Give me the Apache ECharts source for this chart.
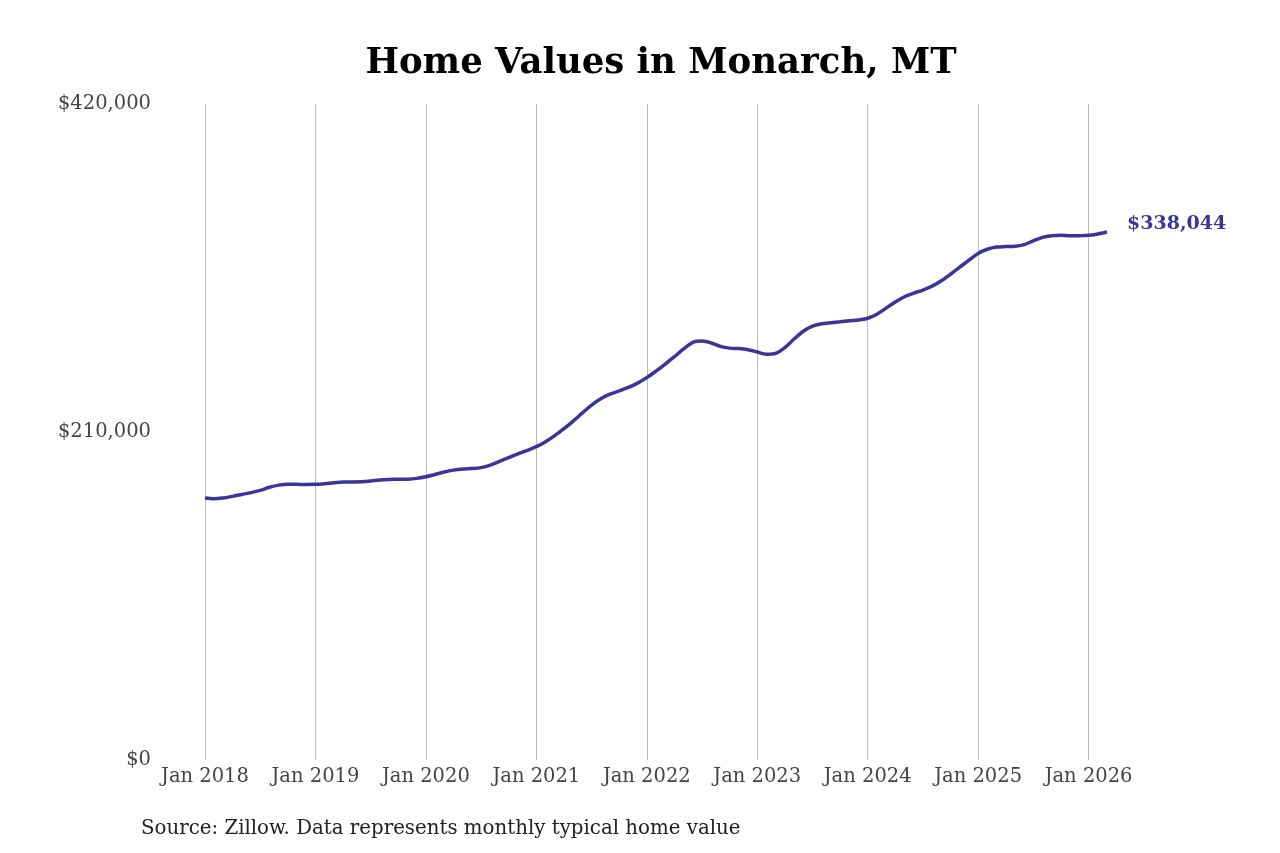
<!DOCTYPE html>
<html>
<head>
<meta charset="utf-8">
<title>Home Values in Monarch, MT</title>
<script src="https://cdn.jsdelivr.net/npm/echarts@6/dist/echarts.min.js"></script>
<style>
  html, body { margin: 0; padding: 0; background: #fff; }
  #chart { width: 1280px; height: 853px; }
</style>
</head>
<body>
<div id="chart"></div>
<script>
// monthly data, Jan 2018 - Mar 2026
var years = [2018, 2019, 2020, 2021, 2022, 2023, 2024, 2025, 2026];
var monthNames = ['Jan', 'Feb', 'Mar', 'Apr', 'May', 'Jun', 'Jul', 'Aug', 'Sep', 'Oct', 'Nov', 'Dec'];

var values2018 = [167700, 167200, 167800, 168800, 170000, 171200, 172600, 174600, 176000, 176600, 176500, 176400];
var values2019 = [176500, 176900, 177500, 178000, 178000, 178100, 178600, 179300, 179600, 179700, 179800, 180300];
var values2020 = [181300, 182800, 184400, 185600, 186300, 186600, 187200, 188800, 191200, 193600, 196000, 198200];
var values2021 = [200600, 203800, 207700, 212100, 217000, 222200, 227200, 231300, 234200, 236300, 238500, 241300];
var values2022 = [244800, 249000, 253500, 258200, 263200, 267400, 268200, 267000, 264800, 263700, 263400, 262700];
var values2023 = [261200, 259800, 260300, 264000, 269500, 274500, 277800, 279300, 280000, 280600, 281200, 281700];
var values2024 = [282800, 285400, 289300, 293300, 296600, 298900, 300900, 303400, 306800, 311000, 315500, 320000];
var values2025 = [324300, 327000, 328400, 328700, 328900, 330000, 332400, 334600, 335600, 335900, 335600, 335700];
var values2026 = [335900, 336800, 338044];

var yTicks = [0, 210000, 420000];

var values = [].concat(values2018, values2019, values2020, values2021, values2022,
	values2023, values2024, values2025, values2026);

var months = [];
years.forEach(function(y) {
	monthNames.forEach(function(m) {
		if (months.length < values.length) months.push(m + ' ' + y);
	});
});

function isJan(idx) {
	return idx % 12 === 0;
}

var font = 'DejaVu Serif';
var lineColor = '#3a3596';

var myChart = echarts.init(document.getElementById('chart'));

var option = {
	backgroundColor: '#fff',
	animation: false,
	title: {
		text: 'Home Values in Monarch, MT',
		left: 656,
		textAlign: 'center',
		top: 41,
		textStyle: {
			fontFamily: font,
			fontSize: 35.5,
			fontWeight: 'bold',
			color: '#000'
		}
	},
	grid: {
		left: 205,
		right: 173,
		top: 104,
		bottom: 93,
		containLabel: false
	},
	xAxis: {
		type: 'category',
		data: months,
		boundaryGap: false,
		axisLine: { show: false },
		axisTick: { show: false },
		axisLabel: {
			interval: function(idx) { return isJan(idx); },
			margin: 7,
			fontFamily: font,
			fontSize: 19.5,
			color: '#444'
		},
		splitLine: {
			show: true,
			interval: function(idx) { return isJan(idx); },
			lineStyle: { color: '#bdbdbd', width: 1 }
		}
	},
	yAxis: {
		type: 'value',
		min: yTicks[0],
		max: yTicks[yTicks.length - 1],
		interval: yTicks[1] - yTicks[0],
		axisLine: { show: false },
		axisTick: { show: false },
		splitLine: { show: false },
		axisLabel: {
			margin: 54,
			padding: [4, 0, 0, 0],
			fontFamily: font,
			fontSize: 19.5,
			color: '#444',
			formatter: function(v) { return '$' + v.toLocaleString('en-US'); }
		}
	},
	series: [{
		name: 'Home value',
		type: 'line',
		data: values,
		smooth: 0.3,
		symbol: 'none',
		lineStyle: { color: lineColor, width: 3.5 },
		endLabel: {
			show: true,
			distance: 20,
			offset: [0, -8],
			fontFamily: font,
			fontSize: 19,
			fontWeight: 'bold',
			color: lineColor,
			formatter: function(p) { return '$' + p.value.toLocaleString('en-US'); }
		}
	}],
	graphic: [{
		type: 'text',
		left: 141,
		top: 819,
		style: {
			text: 'Source: Zillow. Data represents monthly typical home value',
			fontFamily: font,
			fontSize: 19.8,
			fill: '#222'
		}
	}]
};

myChart.setOption(option);
</script>
</body>
</html>
